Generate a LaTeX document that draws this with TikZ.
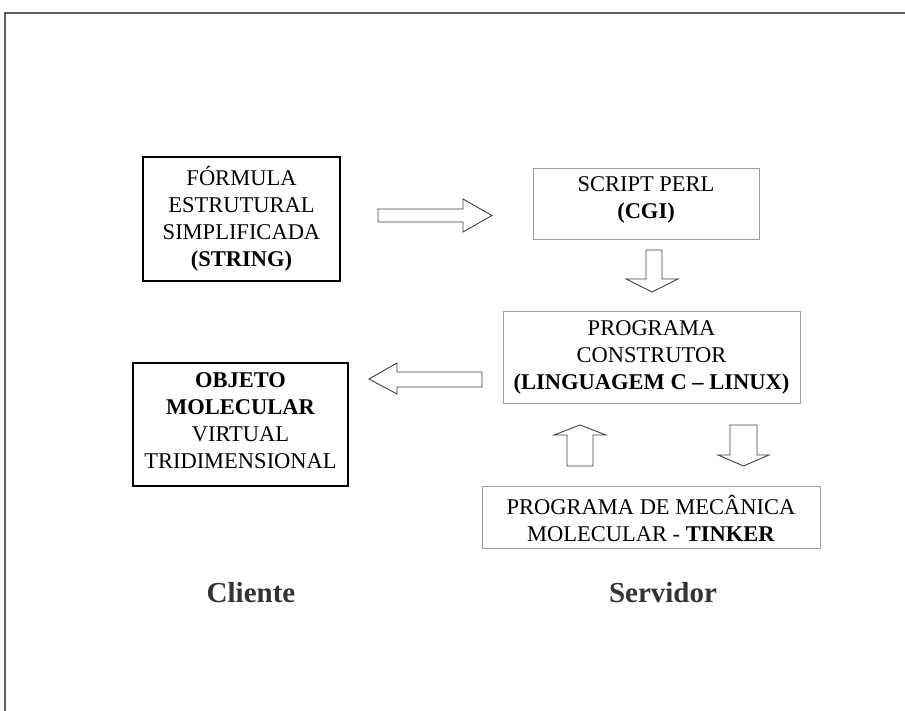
\documentclass[tikz,border=0pt]{standalone}
\usepackage{fontspec}
\setmainfont{Liberation Serif}
\begin{document}
\begin{tikzpicture}[x=1pt,y=-1pt,
  boxtext/.style={align=center,inner sep=0pt,font=\fontsize{22.5}{27}\selectfont,text=black},
  darkbox/.style={draw=black,line width=1.3pt},
  lightbox/.style={draw=gray!75,line width=1pt},
  blockarrow/.style={draw=black!75,line width=0.9pt,fill=white,line join=miter},
  sidelabel/.style={font=\fontsize{29}{31}\selectfont\bfseries,text=black!80,inner sep=0pt}]
\useasboundingbox (0,0) rectangle (905,711);
\fill[white] (0,0) rectangle (905,711);
% frame
\draw[black!62,line width=2pt] (5,711) -- (5,13) -- (905,13);

% boxes
\draw[darkbox] (143,157) rectangle (340,281);
\node[boxtext] (formula) at (241.5,219) {FÓRMULA\\ESTRUTURAL\\SIMPLIFICADA\\\textbf{(STRING)}};

\draw[lightbox] (533,169) rectangle (759,240);
\node[boxtext] (perl) at (646,200) {SCRIPT PERL\\\textbf{(CGI)}};

\draw[lightbox] (503,312) rectangle (800,403);
\node[boxtext] (constr) at (651.5,357) {PROGRAMA\\CONSTRUTOR\\\textbf{(LINGUAGEM C – LINUX)}};

\draw[darkbox] (133,363) rectangle (348,486);
\node[boxtext] (objeto) at (240.5,421) {\textbf{OBJETO}\\\textbf{MOLECULAR}\\VIRTUAL\\TRIDIMENSIONAL};

\draw[lightbox] (482,486) rectangle (820,548);
\node[boxtext] (tinker) at (651,518) {PROGRAMA DE MECÂNICA\\MOLECULAR - \textbf{TINKER}};

% block arrows
\draw[blockarrow] (378,209) -- (463,209) -- (463,199) -- (492,215.5) -- (463,232) -- (463,222) -- (378,222) -- cycle;
\draw[blockarrow] (646,250) -- (662,250) -- (662,279) -- (678,279) -- (652,292) -- (626,279) -- (646,279) -- cycle;
\draw[blockarrow] (482,372) -- (397,372) -- (397,363) -- (369,379) -- (397,394) -- (397,387) -- (482,387) -- cycle;
\draw[blockarrow] (567,466) -- (567,435) -- (554,435) -- (580,425) -- (606,435) -- (593,435) -- (593,466) -- cycle;
\draw[blockarrow] (730,425) -- (757,425) -- (757,455) -- (769,455) -- (743.5,466) -- (718,455) -- (730,455) -- cycle;

% labels
\node[sidelabel] (cliente) at (251,593) {Cliente};
\node[sidelabel] (servidor) at (663,593) {Servidor};
\end{tikzpicture}
\end{document}
